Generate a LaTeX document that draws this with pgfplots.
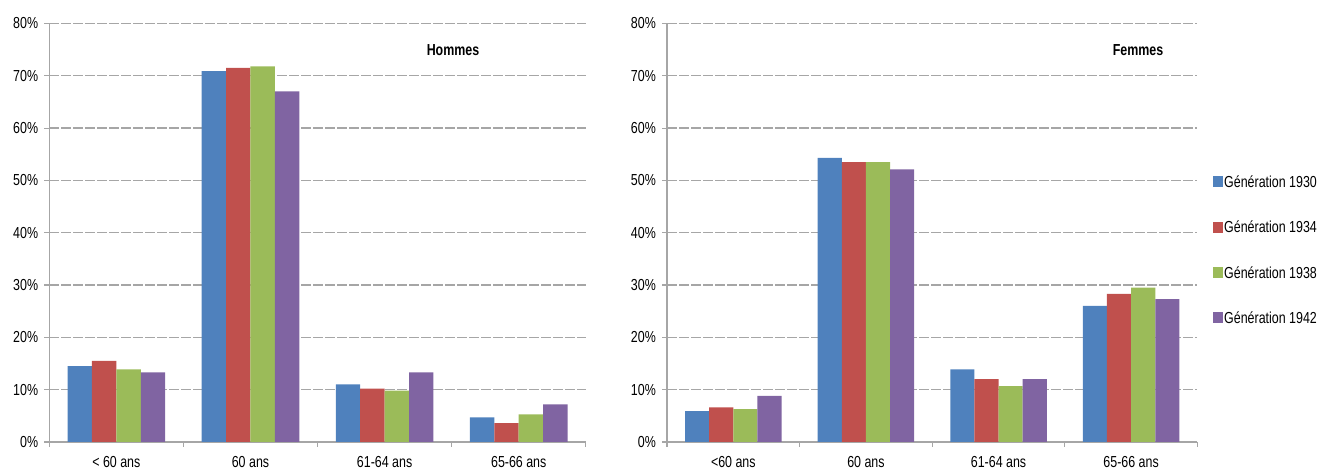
\documentclass[border=0pt]{standalone}
\usepackage{pgfplots}
\pgfplotsset{compat=1.18}
\usepackage{fontspec}
\setmainfont{Liberation Sans}[FakeStretch=0.78]

\definecolor{g1930}{HTML}{4F81BD}
\definecolor{g1934}{HTML}{C0504D}
\definecolor{g1938}{HTML}{9BBB59}
\definecolor{g1942}{HTML}{8064A2}
\definecolor{gridgray}{HTML}{A6A6A6}

% Share of retirements by age, per generation (percent)
% columns: category position, generation 1930, 1934, 1938, 1942
\pgfplotstableread{
x    g30   g34   g38   g42
0.5  14.5  15.5  13.9  13.3
1.5  70.9  71.5  71.8  67.0
2.5  11.0  10.2   9.8  13.3
3.5   4.7   3.6   5.3   7.2
}\hommes
\pgfplotstableread{
x    g30   g34   g38   g42
0.5   5.9   6.6   6.3   8.8
1.5  54.3  53.5  53.5  52.1
2.5  13.9  12.0  10.7  12.0
3.5  26.0  28.3  29.5  27.3
}\femmes

\pgfplotsset{
  retraite/.style={
    scale only axis,
    height=418.5bp,
    xmin=0, xmax=4, ymin=0, ymax=80,
    axis x line*=bottom, axis y line*=left,
    axis line style={gridgray, line width=1.2bp, -},
    ybar, bar width=0.182,
    xtick={0.5,1.5,2.5,3.5},
    minor xtick={0,1,2,3,4},
    major x tick style={draw=none},
    minor x tick style={gridgray, line width=1.2bp},
    minor tick length=5bp,
    ytick={0,10,...,80},
    yticklabels={0\%,10\%,20\%,30\%,40\%,50\%,60\%,70\%,80\%},
    y tick style={gridgray, line width=1.2bp},
    major tick length=5bp,
    tick align=outside,
    ymajorgrids,
    major grid style={gridgray, line width=1.3bp, dash pattern=on 10bp off 2bp},
    tick label style={font=\fontsize{16}{19}\selectfont, text=black},
    y tick label style={inner sep=0pt, xshift=-6bp},
    x tick label style={inner sep=0pt, yshift=-9bp},
    every axis plot/.append style={draw=none},
  }
}

\begin{document}
\begin{tikzpicture}[x=1bp, y=1bp]
\useasboundingbox (0,0) rectangle (1321,470);

% Hommes
\begin{axis}[retraite, width=536.5bp,
  anchor=south west, at={(49.3bp,28bp)},
  xticklabels={< 60 ans, 60 ans, 61-64 ans, 65-66 ans}]
  \addplot[fill=g1930, bar shift=-0.273] table[x=x, y=g30] {\hommes};
  \addplot[fill=g1934, bar shift=-0.091] table[x=x, y=g34] {\hommes};
  \addplot[fill=g1938, bar shift=0.091]  table[x=x, y=g38] {\hommes};
  \addplot[fill=g1942, bar shift=0.273]  table[x=x, y=g42] {\hommes};
  \node[font=\fontsize{16}{19}\selectfont\bfseries] at (rel axis cs:0.7525,0.9355) {Hommes};
\end{axis}

% Femmes
\begin{axis}[retraite, width=530.4bp,
  anchor=south west, at={(667bp,28bp)},
  xticklabels={<60 ans, 60 ans, 61-64 ans, 65-66 ans},
  legend style={draw=none, fill=none, inner sep=0pt,
    at={(1.0294,0.6356)}, anchor=north west,
    row sep=33.8bp,
    nodes={inner sep=0pt, inner xsep=1bp, text height=11.5bp, text depth=0bp,
           font=\fontsize{16}{19}\selectfont}},
  legend cell align=left,
  legend image code/.code={\fill[#1] (0bp,-5.5bp) rectangle (10bp,5.5bp);}]
  \addplot[fill=g1930, bar shift=-0.273] table[x=x, y=g30] {\femmes};
  \addplot[fill=g1934, bar shift=-0.091] table[x=x, y=g34] {\femmes};
  \addplot[fill=g1938, bar shift=0.091]  table[x=x, y=g38] {\femmes};
  \addplot[fill=g1942, bar shift=0.273]  table[x=x, y=g42] {\femmes};
  \legend{Génération 1930, Génération 1934, Génération 1938, Génération 1942}
  \node[font=\fontsize{16}{19}\selectfont\bfseries] at (rel axis cs:0.888,0.937) {Femmes};
\end{axis}
\end{tikzpicture}
\end{document}
